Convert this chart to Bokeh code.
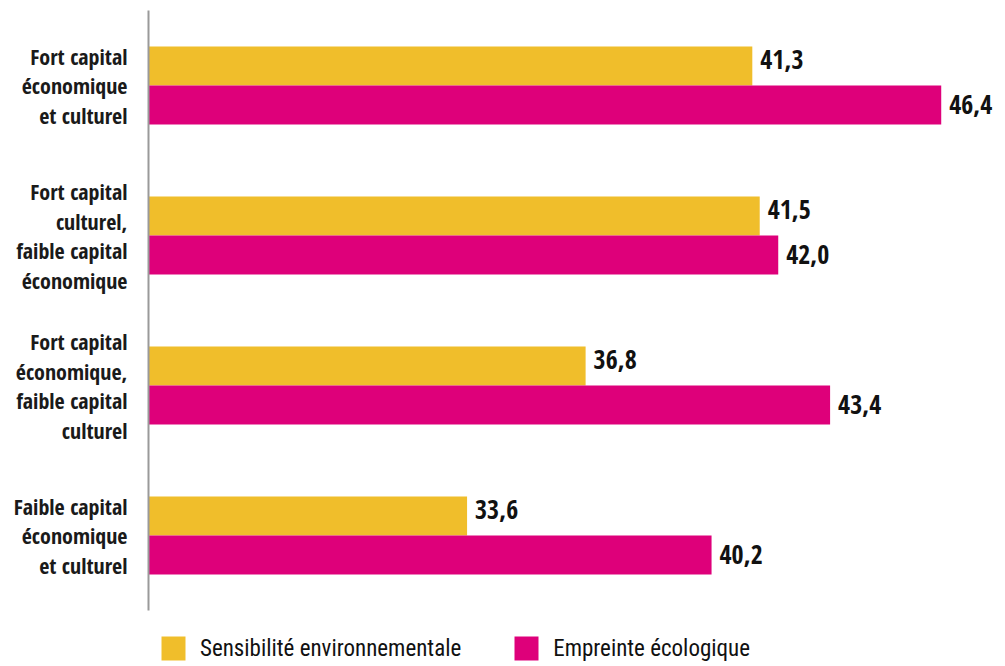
from bokeh.plotting import figure
from bokeh.models import ColumnDataSource, Range1d, FixedTicker, Legend, LegendItem
from bokeh.transform import dodge
from bokeh.core.properties import value
from bokeh.embed import file_html
from bokeh.resources import INLINE

categories = [
    "Fort capital\néconomique\net culturel",
    "Fort capital\nculturel,\nfaible capital\néconomique",
    "Fort capital\néconomique,\nfaible capital\nculturel",
    "Faible capital\néconomique\net culturel",
]
sensibilite = [41.3, 41.5, 36.8, 33.6]
empreinte = [46.4, 42.0, 43.4, 40.2]
series_names = ["Sensibilité environnementale", "Empreinte écologique"]
colors = ["#F0BE2B", "#DE007A"]

FONT = "Open Sans Condensed"
LEG_FONT = "Roboto Condensed"

def fmt(v):
    return f"{v:.1f}".replace(".", ",")

n = len(categories)
idx = list(range(n))

src = ColumnDataSource(dict(
    idx=idx,
    s=sensibilite,
    e=empreinte,
    s_lab=[fmt(v) for v in sensibilite],
    e_lab=[fmt(v) for v in empreinte],
))

legend_room = 0.3667  # extra space (in category units) below the bars for the legend

p = figure(
    width=1003, height=665,
    y_range=Range1d(start=n - 0.5 + legend_room, end=-0.5),
    x_range=Range1d(25, 48),
    output_backend="svg", toolbar_location=None,
    min_border_left=148, min_border_right=3, min_border_top=10, min_border_bottom=0,
)

bh = 0.26
off = 0.13
r1 = p.hbar(y=dodge("idx", -off), left=25, right="s", height=bh,
            source=src, fill_color=colors[0], line_color=None)
r2 = p.hbar(y=dodge("idx", off), left=25, right="e", height=bh,
            source=src, fill_color=colors[1], line_color=None)

p.text(x="s", y=dodge("idx", -off), text="s_lab", source=src,
       x_offset=8, y_offset=-6, text_align="left", text_baseline="middle",
       text_font=value(FONT), text_font_style="bold", text_font_size="26px",
       text_color="#111111")
p.text(x="e", y=dodge("idx", off), text="e_lab", source=src,
       x_offset=8, text_align="left", text_baseline="middle",
       text_font=value(FONT), text_font_style="bold", text_font_size="26px",
       text_color="#111111")

p.xaxis.visible = False
p.xgrid.visible = False
p.ygrid.visible = False
p.outline_line_color = None

ax = p.yaxis[0]
ax.ticker = FixedTicker(ticks=idx)
ax.major_label_overrides = {i: c for i, c in zip(idx, categories)}
ax.bounds = (-0.5, n - 0.5)
ax.axis_line_color = "#9a9a9a"
ax.axis_line_width = 2
ax.major_tick_line_color = None
ax.minor_tick_line_color = None
ax.major_label_standoff = 15
ax.major_label_text_font = FONT
ax.major_label_text_font_style = "bold"
ax.major_label_text_font_size = "22px"
ax.major_label_text_color = "#1a1a1a"
ax.major_label_text_line_height = 0.98

legend = Legend(
    items=[LegendItem(label=series_names[0], renderers=[r1]),
           LegendItem(label=series_names[1], renderers=[r2])],
    orientation="horizontal",
    location=(10, 2),
    glyph_width=30, glyph_height=30,
    label_standoff=12, spacing=50,
    padding=0, margin=0,
    border_line_color=None, background_fill_alpha=0,
    label_text_font=LEG_FONT, label_text_font_size="23px", label_text_color="#111111",
)
p.add_layout(legend, "center")

open("out.html", "w").write(file_html(p, INLINE))
